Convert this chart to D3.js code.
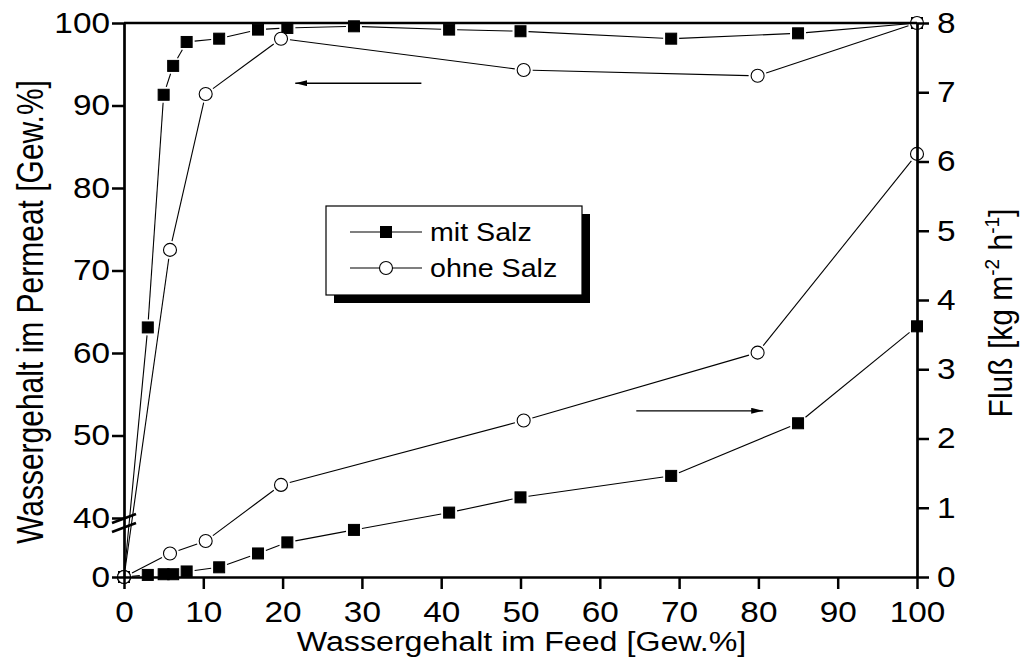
<!DOCTYPE html>
<html>
<head>
<meta charset="utf-8">
<script src="https://cdn.jsdelivr.net/npm/d3@7"></script>
<style>
body{margin:0;background:#fff;}
text{font-family:Arial,"Liberation Sans",sans-serif;fill:#000;}
</style>
</head>
<body>
<svg id="chart"></svg>
<script>
// data
var feedMit   = [0, 3, 5, 6.2, 7.9, 12, 16.9, 20.6, 29, 41, 50, 69, 85, 100];
var permMit   = [0, 63.1, 91.3, 94.8, 97.7, 98.1, 99.2, 99.4, 99.6, 99.2, 99.0, 98.1, 98.75, 100];
var flussMit  = [0, 0.03, 0.04, 0.04, 0.08, 0.14, 0.34, 0.5, 0.68, 0.93, 1.15, 1.46, 2.22, 3.62];
var feedOhne  = [0, 5.8, 10.3, 19.8, 50.4, 79.9, 100];
var permOhne  = [0, 72.5, 91.4, 98.1, 94.3, 93.6, 100];
var flussOhne = [0, 0.34, 0.52, 1.33, 2.26, 3.24, 6.11];

var xTicks = [0,10,20,30,40,50,60,70,80,90,100];
var leftTicks = [0,40,50,60,70,80,90,100];
var rightTicks = [0,1,2,3,4,5,6,7,8];
var seriesNames = ["mit Salz","ohne Salz"];
// arrows: [x0, x1, y] in data units of the axis they point to
var arrowLeft = [37.5, 21.6, 92.7];
var arrowRight = [64.6, 80.6, 2.40];

var width=1021, height=669;
var margin={top:23,bot:92,left:124,right:104};
var stretch=1.15; // glyphs in the original are drawn wide

var svg=d3.select("#chart").attr("width",width).attr("height",height);
svg.append("rect").attr("width",width).attr("height",height).attr("fill","#fff");

var xScale=d3.scaleLinear().domain([0,100]).range([margin.left,width-margin.right]);
var yLeft=d3.scaleLinear().domain([0,40,100]).range([height-margin.bot,518,margin.top]);
var yRight=d3.scaleLinear().domain([0,8]).range([height-margin.bot,margin.top]);

svg.append("defs").append("marker")
   .attr("id","head").attr("viewBox","0 0 12 6")
   .attr("refX",12).attr("refY",3)
   .attr("markerWidth",12).attr("markerHeight",6)
   .attr("markerUnits","userSpaceOnUse")
   .attr("orient","auto")
   .append("path").attr("d","M0,0L12,3L0,6Z").attr("fill","#000");

function makePoints(xs,ys,yScale){
  var lis=[];
  xs.forEach(function(d,i){
    lis.push({x:xScale(d),y:yScale(ys[i])});
  });
  return lis;
}

// lines stop a little short of each marker
function drawLine(pts,kind){
  var gap=2.5;
  for(var i=0;i<pts.length-1;i++){
    var a=pts[i], b=pts[i+1];
    var dx=b.x-a.x, dy=b.y-a.y, len=Math.sqrt(dx*dx+dy*dy);
    if(len==0){continue;}
    var ux=dx/len, uy=dy/len;
    var cut;
    if(kind==="square"){cut=5.5/Math.max(Math.abs(ux),Math.abs(uy))+gap;}
    else{cut=6.5+gap;}
    if(len<=2*cut){continue;}
    svg.append("line")
       .attr("x1",a.x+ux*cut).attr("y1",a.y+uy*cut)
       .attr("x2",b.x-ux*cut).attr("y2",b.y-uy*cut)
       .attr("stroke","#000").attr("stroke-width",1.1);
  }
}

var mitUp=makePoints(feedMit,permMit,yLeft);
var mitLow=makePoints(feedMit,flussMit,yRight);
var ohneUp=makePoints(feedOhne,permOhne,yLeft);
var ohneLow=makePoints(feedOhne,flussOhne,yRight);

[mitUp,mitLow].forEach(function(p){drawLine(p,"square");});
[ohneUp,ohneLow].forEach(function(p){drawLine(p,"circle");});

var circlePts=ohneUp.concat(ohneLow);
function sharesCircle(p){
  return circlePts.some(function(c){return Math.abs(c.x-p.x)<1&&Math.abs(c.y-p.y)<1;});
}

svg.selectAll("rect.sq")
   .data(mitUp.concat(mitLow))
   .enter().append("rect")
   .attr("class","sq")
   .attr("x",function(d){return d.x-5.5;})
   .attr("y",function(d){return d.y-5.5;})
   .attr("width",11).attr("height",11)
   .attr("fill",function(d){return sharesCircle(d)?"#fff":"#000";})
   .attr("stroke","#000").attr("stroke-width",1);

svg.selectAll("circle.ci")
   .data(circlePts)
   .enter().append("circle")
   .attr("class","ci")
   .attr("cx",function(d){return d.x;})
   .attr("cy",function(d){return d.y;})
   .attr("r",6.5)
   .attr("fill","#fff").attr("stroke","#000").attr("stroke-width",1.1);

// arrows
svg.append("line")
   .attr("x1",xScale(arrowLeft[0])).attr("x2",xScale(arrowLeft[1]))
   .attr("y1",yLeft(arrowLeft[2])).attr("y2",yLeft(arrowLeft[2]))
   .attr("stroke","#000").attr("stroke-width",1.3).attr("marker-end","url(#head)");
svg.append("line")
   .attr("x1",xScale(arrowRight[0])).attr("x2",xScale(arrowRight[1]))
   .attr("y1",yRight(arrowRight[2])).attr("y2",yRight(arrowRight[2]))
   .attr("stroke","#000").attr("stroke-width",1.3).attr("marker-end","url(#head)");

// axes
var fs=29;
var xAxis=d3.axisBottom(xScale).tickValues(xTicks).tickSize(12).tickSizeOuter(0).tickPadding(12);
var lAxis=d3.axisLeft(yLeft).tickValues(leftTicks).tickSize(12).tickSizeOuter(0).tickPadding(2);
var rAxis=d3.axisRight(yRight).tickValues(rightTicks).tickSize(12).tickSizeOuter(0).tickPadding(8);

function styleAxis(g){
  g.select(".domain").attr("stroke","#000").attr("stroke-width",2.7);
  g.selectAll(".tick line").attr("stroke","#000").attr("stroke-width",2.5);
  g.selectAll(".tick text").attr("font-size",fs).attr("font-family",null).attr("fill","#000")
   .attr("x",function(){return (+d3.select(this).attr("x")||0)/stretch;})
   .attr("transform","scale("+stretch+",1)");
}
svg.append("g").attr("transform","translate(0,"+(height-margin.bot)+")").call(xAxis).call(styleAxis);
svg.append("g").attr("transform","translate("+margin.left+",0)").call(lAxis).call(styleAxis);
svg.append("g").attr("transform","translate("+(width-margin.right)+",0)").call(rAxis).call(styleAxis);
svg.append("line")
   .attr("x1",margin.left).attr("x2",width-margin.right)
   .attr("y1",margin.top).attr("y2",margin.top)
   .attr("stroke","#000").attr("stroke-width",2.7);

// axis break on the left axis
var yb=yLeft(40)+5;
[-4.5,4.5].forEach(function(o){
  svg.append("line")
     .attr("x1",margin.left-12).attr("y1",yb+o+4.5)
     .attr("x2",margin.left+12).attr("y2",yb+o-4.5)
     .attr("stroke","#000").attr("stroke-width",2.5);
});

// titles
var cx=(margin.left+width-margin.right)/2+1;
svg.append("text").attr("transform","translate("+cx+",651) scale("+stretch+",1)")
   .attr("text-anchor","middle").attr("font-size",28).text("Wassergehalt im Feed [Gew.%]");
svg.append("text").attr("transform","translate(43,312) rotate(-90) scale(1,1.2)")
   .attr("text-anchor","middle").attr("font-size",30).text("Wassergehalt im Permeat [Gew.%]");
var rt=svg.append("text").attr("transform","translate(1012,313) rotate(-90) scale(1,1.1)")
   .attr("text-anchor","middle").attr("font-size",30);
rt.append("tspan").text("Fluß [kg m");
rt.append("tspan").attr("font-size",19).attr("dy",-12).text("-2");
rt.append("tspan").attr("dy",12).text(" h");
rt.append("tspan").attr("font-size",19).attr("dy",-12).text("-1");
rt.append("tspan").attr("dy",12).text("]");

// legend
var lg=svg.append("g").attr("transform","translate(326,206)");
lg.append("rect").attr("x",8).attr("y",8).attr("width",256).attr("height",89).attr("fill","#000");
lg.append("rect").attr("width",256).attr("height",89).attr("fill","#fff").attr("stroke","#000").attr("stroke-width",1.2);
seriesNames.forEach(function(name,i){
  var yy=26+i*36;
  lg.append("line").attr("x1",24).attr("x2",96).attr("y1",yy).attr("y2",yy)
    .attr("stroke","#000").attr("stroke-width",1.1);
  if(i===0){
    lg.append("rect").attr("x",60-6).attr("y",yy-6).attr("width",12).attr("height",12).attr("fill","#000");
  }
  else{
    lg.append("circle").attr("cx",60).attr("cy",yy).attr("r",6.5)
      .attr("fill","#fff").attr("stroke","#000").attr("stroke-width",1.1);
  }
  lg.append("text").attr("transform","translate(104,"+(yy+9)+") scale(1.1,1)")
    .attr("font-size",26).text(name);
});
</script>
</body>
</html>
